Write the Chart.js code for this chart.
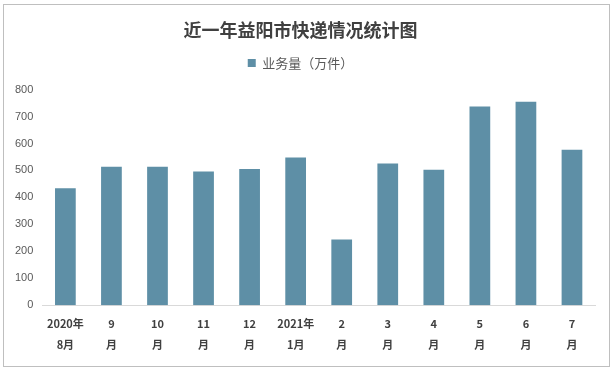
<!DOCTYPE html>
<html>
<head>
<meta charset="utf-8">
<script src="https://cdn.jsdelivr.net/npm/chart.js@4.4.1/dist/chart.umd.min.js"></script>
<style>
  body { margin: 0; background: #fff; }
  #wrap { position: absolute; left: 3px; top: 4px; width: 605px; height: 361px; border: 1px solid #bfbfbf; }
</style>
</head>
<body>
<div id="wrap"><canvas id="c"></canvas></div>
<script>
// 业务量（万件）
const months = [
    ['2020年', '8月'], ['9', '月'], ['10', '月'], ['11', '月'], ['12', '月'], ['2021年', '1月'],
    ['2', '月'], ['3', '月'], ['4', '月'], ['5', '月'], ['6', '月'], ['7', '月']
];
const volume = [434, 514, 514, 496, 505, 548, 244, 526, 503, 737, 755, 577];
const yTicks = [0, 100, 200, 300, 400, 500, 600, 700, 800];

const barColor = '#5e8fa6';

// extra gap under the legend
const legendGap = {
    id: 'legendGap',
    beforeInit(chart) {
        const fit = chart.legend.fit;
        chart.legend.fit = function () {
            fit.bind(chart.legend)();
            this.height += 10;
        };
    }
};

new Chart(document.getElementById('c'), {
    type: 'bar',
    data: {
        labels: months,
        datasets: [{
            label: '业务量（万件）',
            data: volume,
            backgroundColor: barColor,
            barPercentage: 0.9,
            categoryPercentage: 0.5
        }]
    },
    options: {
        responsive: true,
        maintainAspectRatio: false,
        animation: false,
        layout: { padding: { left: 2, right: 14, top: 4, bottom: 3 } },
        plugins: {
            title: {
                display: true,
                text: '近一年益阳市快递情况统计图',
                color: '#404040',
                font: { family: 'Noto Sans CJK SC', size: 18, weight: 'bold' },
                padding: { top: 10, bottom: 8 }
            },
            legend: {
                display: true,
                labels: {
                    boxWidth: 8,
                    boxHeight: 8,
                    color: '#595959',
                    font: { family: 'Noto Sans CJK SC', size: 13 },
                    padding: 8
                }
            },
            tooltip: { enabled: false }
        },
        scales: {
            x: {
                grid: { display: false, drawTicks: false },
                border: { color: '#d9d9d9' },
                ticks: {
                    color: '#404040',
                    font: { family: 'Noto Sans CJK SC', size: 11, weight: 'bold', lineHeight: 1.9 },
                    maxRotation: 0,
                    padding: 8
                }
            },
            y: {
                min: 0,
                max: 800,
                afterBuildTicks: axis => { axis.ticks = yTicks.map(v => ({ value: v })); },
                grid: { display: false, drawTicks: false },
                border: { display: false },
                ticks: {
                    color: '#595959',
                    font: { family: 'Liberation Sans', size: 11 },
                    padding: 9
                }
            }
        }
    },
    plugins: [legendGap]
});
</script>
</body>
</html>
